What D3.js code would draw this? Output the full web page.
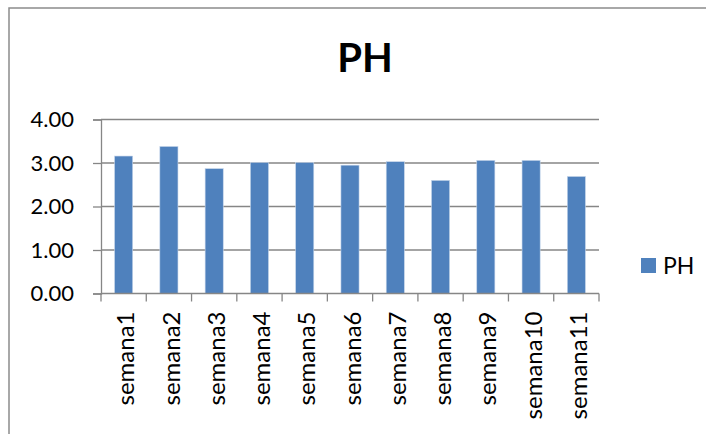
<!DOCTYPE html>
<html>
<head>
<meta charset="utf-8">
<script src="https://cdn.jsdelivr.net/npm/d3@7"></script>
<style>
  html, body { margin: 0; padding: 0; background: #fff; }
  svg { display: block; }
  text { font-family: Lato, "Open Sans", sans-serif; fill: #000; }
</style>
</head>
<body>
<svg id="chart" width="706" height="434"></svg>
<script>
// Weekly pH readings
const categories = ["semana1", "semana2", "semana3", "semana4", "semana5", "semana6",
                    "semana7", "semana8", "semana9", "semana10", "semana11"];
const phValues = [3.16, 3.38, 2.87, 3.01, 3.01, 2.95, 3.03, 2.60, 3.06, 3.06, 2.69];
const yTicks = [0, 1, 2, 3, 4];
const seriesName = "PH";
const chartTitle = "PH";

const svg = d3.select("#chart");
const barColor = "#4F81BD";
const gridColor = "#868686";

const plot = { left: 101, right: 599, top: 119.5, bottom: 293.5 };

// Outer frame of the chart area (right and bottom edges run past the page)
svg.append("rect")
  .attr("x", 9).attr("y", 8)
  .attr("width", 760).attr("height", 500)
  .attr("fill", "none")
  .attr("stroke", "#8c8c8c")
  .attr("stroke-width", 1.5);

const y = d3.scaleLinear().domain([0, 4]).range([plot.bottom, plot.top]);

// Category slots (boundaries carry the tick marks)
const xSlots = d3.scaleBand().domain(categories).range([plot.left, plot.right]).padding(0);
// Bars sit in the middle 40% of each slot
const x = d3.scaleBand().domain(categories).range([plot.left, plot.right])
  .paddingInner(0.6).paddingOuter(0.3);

// Horizontal gridlines
svg.append("g")
  .selectAll("line")
  .data(yTicks.filter(d => d > 0))
  .join("line")
  .attr("x1", plot.left).attr("x2", plot.right)
  .attr("y1", d => y(d)).attr("y2", d => y(d))
  .attr("stroke", gridColor)
  .attr("stroke-width", 1.3);

// Bars
svg.append("g")
  .selectAll("rect")
  .data(phValues)
  .join("rect")
  .attr("x", (d, i) => x(categories[i]))
  .attr("y", d => y(d))
  .attr("width", x.bandwidth())
  .attr("height", d => y(0) - y(d))
  .attr("fill", barColor)
  .attr("stroke", "#c6d6ea")
  .attr("stroke-width", 0.6);

// Y axis
const yAxis = svg.append("g")
  .attr("transform", `translate(${plot.left},0)`)
  .call(d3.axisLeft(y).tickValues(yTicks).tickFormat(d3.format(".2f")).tickSize(8).tickPadding(19));
yAxis.select(".domain").attr("stroke", gridColor).attr("stroke-width", 1.3);
yAxis.selectAll(".tick line").attr("stroke", gridColor).attr("stroke-width", 1.3);
yAxis.selectAll(".tick text")
  .attr("font-family", "Lato, 'Open Sans', sans-serif")
  .attr("font-size", 22)
  .attr("fill", "#000");

// X axis line and slot boundary ticks
const xg = svg.append("g");
xg.append("line")
  .attr("x1", plot.left).attr("x2", plot.right)
  .attr("y1", y(0)).attr("y2", y(0))
  .attr("stroke", gridColor).attr("stroke-width", 1.3);
const boundaries = categories.map(c => xSlots(c)).concat([xSlots.range()[1]]);
xg.selectAll("line.tick")
  .data(boundaries)
  .join("line")
  .attr("class", "tick")
  .attr("x1", d => d).attr("x2", d => d)
  .attr("y1", y(0)).attr("y2", y(0) + 8)
  .attr("stroke", gridColor).attr("stroke-width", 1.3);

// Rotated category labels
xg.selectAll("text")
  .data(categories)
  .join("text")
  .attr("transform", d => `translate(${xSlots(d) + xSlots.bandwidth() / 2 + 2},${y(0) + 18}) rotate(-90)`)
  .attr("text-anchor", "end")
  .attr("dy", "0.36em")
  .attr("font-size", 24)
  .text(d => d);

// Title
svg.append("text")
  .attr("x", 365).attr("y", 72)
  .attr("text-anchor", "middle")
  .attr("font-size", 40)
  .attr("font-weight", "bold")
  .text(chartTitle);

// Legend
const legend = svg.append("g").attr("transform", "translate(641,258)");
legend.append("rect")
  .attr("width", 15).attr("height", 15)
  .attr("fill", barColor);
legend.append("text")
  .attr("x", 22).attr("y", 7.5)
  .attr("dy", "0.36em")
  .attr("font-size", 23)
  .text(seriesName);
</script>
</body>
</html>
